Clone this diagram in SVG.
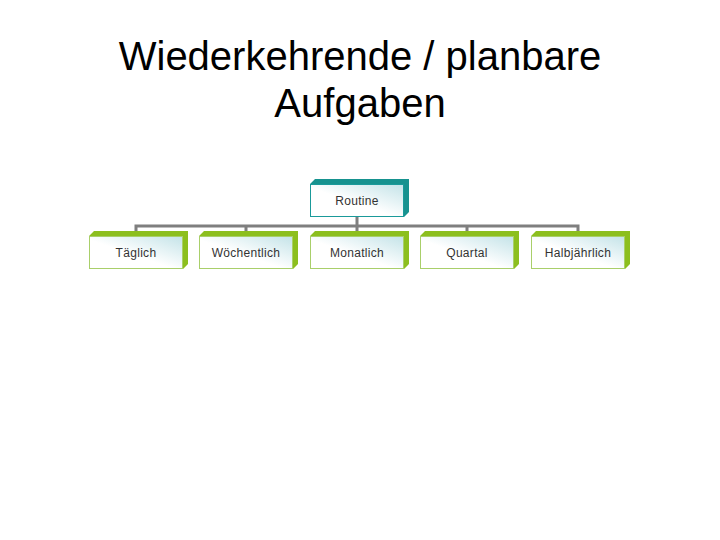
<svg xmlns="http://www.w3.org/2000/svg" width="720" height="540" viewBox="0 0 720 540">
<defs>
<linearGradient id="fill" x1="0" y1="1" x2="1" y2="0">
<stop offset="0" stop-color="#ffffff"/>
<stop offset="0.45" stop-color="#ffffff"/>
<stop offset="1" stop-color="#c4e3e8"/>
</linearGradient>
</defs>
<style>
.title{font-family:"Liberation Sans",Arial,sans-serif;font-size:40px;fill:#000;text-anchor:middle}
.lbl{font-family:"Liberation Sans",Arial,sans-serif;font-size:12px;fill:#333;text-anchor:middle;letter-spacing:0.3px}
.front{fill:url(#fill);stroke:#a9cf6a;stroke-width:1}
.frontR{fill:url(#fill);stroke:#1a9a9a;stroke-width:1}
.ext{fill:#8cbf1e}
.extR{fill:#16928f}
.conn{stroke:#7f7f7f;stroke-width:3;fill:none}
</style>
<rect width="720" height="540" fill="#fff"/>
<text class="title" x="360" y="70">Wiederkehrende / planbare</text>
<text class="title" x="360" y="117">Aufgaben</text>
<g id="connectors">
<path class="conn" d="M357 217 V226 M136 226 H578 M136 224.5 V233 M246 224.5 V233 M357 224.5 V233 M467 224.5 V233 M578 224.5 V233"/>
</g>
<g id="routine">
<polygon class="extR" points="310,184 315,179 409,179 409,212 404,217 404,184"/>
<rect class="frontR" x="310.5" y="184.5" width="93" height="32"/>
<text class="lbl" x="357" y="205">Routine</text>
</g>
<g id="taeglich">
<polygon class="ext" points="89,236 94,231 188,231 188,264 183,269 183,236"/>
<rect class="front" x="89.5" y="236.5" width="93" height="32"/>
<text class="lbl" x="136" y="257">Täglich</text>
</g>
<g id="woechentlich">
<polygon class="ext" points="199,236 204,231 298,231 298,264 293,269 293,236"/>
<rect class="front" x="199.5" y="236.5" width="93" height="32"/>
<text class="lbl" x="246" y="257">Wöchentlich</text>
</g>
<g id="monatlich">
<polygon class="ext" points="310,236 315,231 409,231 409,264 404,269 404,236"/>
<rect class="front" x="310.5" y="236.5" width="93" height="32"/>
<text class="lbl" x="357" y="257">Monatlich</text>
</g>
<g id="quartal">
<polygon class="ext" points="420,236 425,231 519,231 519,264 514,269 514,236"/>
<rect class="front" x="420.5" y="236.5" width="93" height="32"/>
<text class="lbl" x="467" y="257">Quartal</text>
</g>
<g id="halbjaehrlich">
<polygon class="ext" points="531,236 536,231 630,231 630,264 625,269 625,236"/>
<rect class="front" x="531.5" y="236.5" width="93" height="32"/>
<text class="lbl" x="578" y="257">Halbjährlich</text>
</g>
</svg>
